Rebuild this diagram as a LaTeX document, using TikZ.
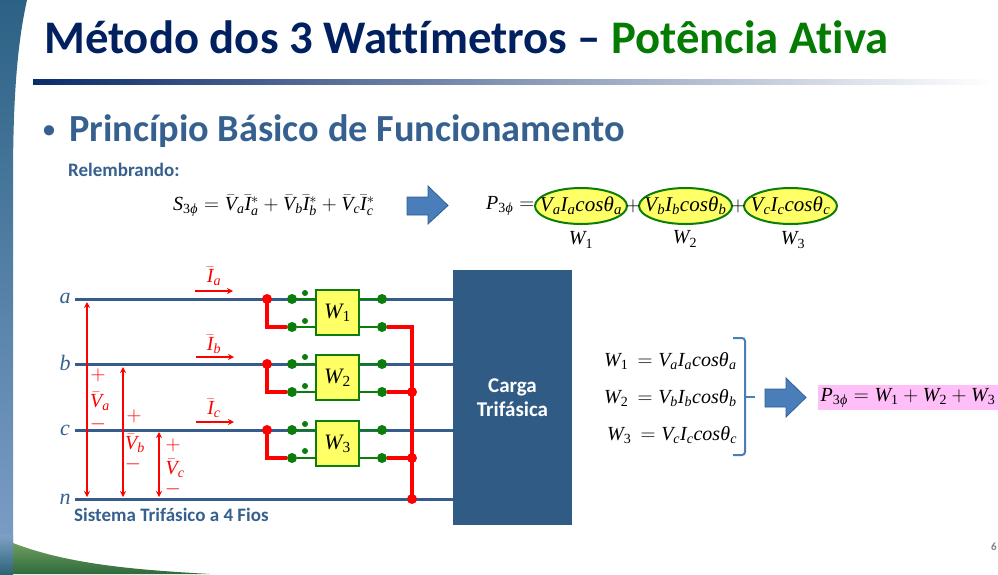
\documentclass[tikz,border=0pt]{standalone}
\usepackage{mathspec}
\setmainfont[Ligatures=NoCommon]{Carlito}
\setmathsfont(Digits,Latin,Greek){Liberation Serif}
\usetikzlibrary{arrows.meta,shapes.geometric}
\definecolor{navy}{HTML}{002060}
\definecolor{okgreen}{HTML}{047C04}
\definecolor{head}{HTML}{36608F}
\definecolor{wire}{HTML}{355C8C}
\definecolor{load}{HTML}{2F5B85}
\definecolor{mred}{HTML}{FF0000}
\definecolor{wgreen}{HTML}{0A7D0A}
\definecolor{wyellow}{HTML}{FFFF66}
\definecolor{bluefill}{HTML}{4A7EBB}
\definecolor{blueedge}{HTML}{2F5F95}
\definecolor{pinkbox}{HTML}{FFBEF8}
\definecolor{stripA}{HTML}{2C6285}
\definecolor{stripB}{HTML}{4F76A8}
\definecolor{stripC}{HTML}{7FA0C8}
\definecolor{swooshA}{HTML}{6F9F60}
\definecolor{swooshB}{HTML}{2E6A3C}
\tikzset{
  x=1pt,y=-1pt,
  phaseline/.style={draw=wire,line width=3pt},
  redwire/.style={draw=mred,line width=3.3pt},
  greenwire/.style={draw=wgreen,line width=2.6pt},
  reddot/.style={circle,fill=mred,inner sep=0pt,minimum size=10pt},
  greendot/.style={circle,fill=wgreen,inner sep=0pt,minimum size=10pt},
  polaritydot/.style={circle,fill=wgreen,inner sep=0pt,minimum size=6pt},
  wattbox/.style={draw=wgreen,line width=2pt,fill=wyellow,minimum width=43pt,minimum height=45pt,inner sep=0pt,font=\fontsize{22}{24}\selectfont},
  watoval/.style={ellipse,draw=wgreen,line width=2pt,fill=wyellow,minimum width=92pt,minimum height=36pt,inner sep=0pt},
  ovaltext/.style={inner sep=0pt,font=\fontsize{21}{24}\selectfont},
  voltarrow/.style={draw=mred,line width=1.3pt,{Stealth[length=6pt,width=6pt]}-{Stealth[length=6pt,width=6pt]}},
  currarrow/.style={draw=mred,line width=1.6pt,-{Stealth[length=6pt,width=6pt]}},
  redlabel/.style={text=mred,inner sep=0pt,font=\fontsize{20}{22}\selectfont},
  wirelabel/.style={text=head,inner sep=0pt,font=\fontsize{22}{24}\selectfont},
  eqn/.style={inner sep=0pt,font=\fontsize{20}{22}\selectfont},
  blockarrow/.style={draw=blueedge,line width=0.8pt,fill=bluefill},
}
\begin{document}
\begin{tikzpicture}
\useasboundingbox (0,0) rectangle (998,574);
\fill[white] (0,0) rectangle (998,574);
% background
\shade[top color=stripA,middle color=stripB,bottom color=stripC]
  (0,0) -- (27,0) .. controls (17,45) and (13,100) .. (13,180) -- (13,574) -- (0,574) -- cycle;
\shade[top color=stripC,bottom color=stripA!80!swooshB] (0,535) rectangle (13,574);
\shade[top color=swooshA,bottom color=swooshB]
  (13,543) .. controls (70,565) and (140,570) .. (210,574) -- (13,574) -- cycle;
% title
\node[anchor=base west,inner sep=0pt,text=navy,font=\fontsize{46.7}{48}\bfseries\selectfont] (title) at (44,53)
  {Método dos 3 Wattímetros \textcolor{navy}{–} \textcolor{okgreen}{Potência Ativa}};
\shade[left color=navy!85!stripB,right color=white,draw=none] (33,79) rectangle (992,84);
\node[anchor=base west,inner sep=0pt,text=head,font=\fontsize{24}{26}\bfseries\selectfont] (bullet) at (43,137) {•};
\node[anchor=base west,inner sep=0pt,text=head,font=\fontsize{38.3}{40}\bfseries\selectfont] (heading) at (69,141) {Princípio Básico de Funcionamento};
\node[anchor=base west,inner sep=0pt,text=head,font=\fontsize{19}{20}\bfseries\selectfont] (relemb) at (68,176) {Relembrando:};
% top equations
\node[eqn,anchor=west] (seq) at (173,206) {$S_{3\varphi}=\bar V_a\bar I_a^{*}+\bar V_b\bar I_b^{*}+\bar V_c\bar I_c^{*}$};
\draw[blockarrow] (407,197) -- (428,197) -- (428,186) -- (448,205.5) -- (428,224) -- (428,215) -- (407,215) -- cycle;
\node[eqn,anchor=west] (peq) at (486,206) {$P_{3\varphi}=$};
\node[watoval] (o1) at (581,206) {};
\node[watoval,minimum width=93pt] (o2) at (685.5,206) {};
\node[watoval,minimum width=93pt] (o3) at (790.5,206) {};
\node[ovaltext] (t1) at (o1) {$V_aI_acos\theta_a$};
\node[ovaltext] (t2) at (o2) {$V_bI_bcos\theta_b$};
\node[ovaltext] (t3) at (o3) {$V_cI_ccos\theta_c$};
\node[eqn] (plus1) at (633,206) {$+$};
\node[eqn] (plus2) at (738,206) {$+$};
\node[eqn] (ow1) at (581,240) {$W_1$};
\node[eqn] (ow2) at (685,239) {$W_2$};
\node[eqn] (ow3) at (793,240) {$W_3$};
% load
\node[fill=load,minimum width=119pt,minimum height=255pt,inner sep=0pt,text=white,align=center,font=\fontsize{21}{23.5}\bfseries\selectfont] (load) at (512.5,397.5) {Carga\\Trifásica};
% wire ends
\coordinate (astart) at (75,299); \coordinate (bstart) at (75,364);
\coordinate (cstart) at (75,430); \coordinate (nstart) at (75,499);
\coordinate (aend) at (load.west |- astart); \coordinate (bend) at (load.west |- bstart);
\coordinate (cend) at (load.west |- cstart); \coordinate (nend) at (load.west |- nstart);
\draw[phaseline] (astart) -- (aend);
\draw[phaseline] (bstart) -- (bend);
\draw[phaseline] (cstart) -- (cend);
\draw[phaseline] (nstart) -- (nend);
% wattmeters
\node[greendot] (gal) at (292,299) {}; \node[greendot] (gall) at (292,327) {};
\node[greendot] (gar) at (382,299) {}; \node[greendot] (garl) at (382,327) {};
\node[greendot] (gbl) at (292,364) {}; \node[greendot] (gbll) at (292,392) {};
\node[greendot] (gbr) at (382,364) {}; \node[greendot] (gbrl) at (382,392) {};
\node[greendot] (gcl) at (292,430) {}; \node[greendot] (gcll) at (292,458) {};
\node[greendot] (gcr) at (382,430) {}; \node[greendot] (gcrl) at (382,458) {};
\node[wattbox] (w1) at (337.5,312.5) {$W_1$};
\node[wattbox] (w2) at (337.5,377.5) {$W_2$};
\node[wattbox] (w3) at (337.5,443.5) {$W_3$};
\node[reddot] (ra) at (267,299) {}; \node[reddot] (rb) at (267,364) {}; \node[reddot] (rc) at (267,430) {};
\node[polaritydot] (pa1) at (305,293) {}; \node[polaritydot] (pa2) at (305,321) {};
\node[polaritydot] (pb1) at (305,357) {}; \node[polaritydot] (pb2) at (305,386) {};
\node[polaritydot] (pc1) at (305,424) {}; \node[polaritydot] (pc2) at (305,451) {};
\draw[greenwire] (gal) -- (gal -| w1.west); \draw[greenwire] (gall) -- (gall -| w1.west);
\draw[greenwire] (gar) -- (gar -| w1.east); \draw[greenwire] (garl) -- (garl -| w1.east);
\draw[greenwire] (gbl) -- (gbl -| w2.west); \draw[greenwire] (gbll) -- (gbll -| w2.west);
\draw[greenwire] (gbr) -- (gbr -| w2.east); \draw[greenwire] (gbrl) -- (gbrl -| w2.east);
\draw[greenwire] (gcl) -- (gcl -| w3.west); \draw[greenwire] (gcll) -- (gcll -| w3.west);
\draw[greenwire] (gcr) -- (gcr -| w3.east); \draw[greenwire] (gcrl) -- (gcrl -| w3.east);
% red wiring
\draw[redwire] (ra.center) |- (gall);
\draw[redwire] (rb.center) |- (gbll);
\draw[redwire] (rc.center) |- (gcll);
\node[reddot] (jb) at (412,392) {}; \node[reddot] (jc) at (412,458) {}; \node[reddot] (jn) at (412,499) {};
\draw[redwire] (garl) -| (jn.center);
\draw[redwire] (gbrl) -- (jb.center);
\draw[redwire] (gcrl) -- (jc.center);
% line names
\node[wirelabel] (la) at (65,298) {$a$};
\node[wirelabel] (lb) at (65,363) {$b$};
\node[wirelabel] (lc) at (65,430) {$c$};
\node[wirelabel] (ln) at (65,499) {$n$};
% voltage arrows
\coordinate (vat) at (87,302); \coordinate (vab) at (87,497);
\coordinate (vbt) at (123,367); \coordinate (vbb) at (123,497);
\coordinate (vct) at (159,432); \coordinate (vcb) at (159,497);
\draw[voltarrow] (vat) -- (vab);
\draw[voltarrow] (vbt) -- (vbb);
\draw[voltarrow] (vct) -- (vcb);
\node[redlabel] (pva) at (98,375) {$+$}; \node[redlabel] (va) at (100,401) {$\bar V_a$}; \node[redlabel] (mva) at (98,424) {$-$};
\node[redlabel] (pvb) at (134,416) {$+$}; \node[redlabel] (vb) at (135,443) {$\bar V_b$}; \node[redlabel] (mvb) at (133,464) {$-$};
\node[redlabel] (pvc) at (173,445) {$+$}; \node[redlabel] (vc) at (175,468) {$\bar V_c$}; \node[redlabel] (mvc) at (173,489) {$-$};
% current arrows
\coordinate (ias) at (195,291); \coordinate (iae) at (233,291);
\coordinate (ibs) at (196,357); \coordinate (ibe) at (234,357);
\coordinate (ics) at (196,422); \coordinate (ice) at (234,422);
\draw[currarrow] (ias) -- (iae);
\draw[currarrow] (ibs) -- (ibe);
\draw[currarrow] (ics) -- (ice);
\node[redlabel] (ia) at (214,276) {$\bar I_a$};
\node[redlabel] (ib) at (214,344) {$\bar I_b$};
\node[redlabel] (ic) at (214,408) {$\bar I_c$};
\node[anchor=base west,inner sep=0pt,text=head,font=\fontsize{19}{20}\bfseries\selectfont] (sist) at (74,521) {Sistema Trifásico a 4 Fios};
% right equations
\node[eqn,anchor=west] (e1) at (604,361) {$W_1\,=V_aI_acos\theta_a$};
\node[eqn,anchor=west] (e2) at (604,398) {$W_2\,=V_bI_bcos\theta_b$};
\node[eqn,anchor=west] (e3) at (607,435) {$W_3\,=V_cI_ccos\theta_c$};
\coordinate (brt) at (733,338); \coordinate (brb) at (733,455); \coordinate (brm) at (745,397); \coordinate (brtip) at (755,397);
\draw[draw=bluefill,line width=2pt,rounded corners=3pt] (brt) -- (745,338) -- (745,455) -- (brb);
\draw[draw=bluefill,line width=2pt] (brm) -- (brtip);
\draw[blockarrow] (765,389) -- (786,389) -- (786,378) -- (806,397.5) -- (786,417) -- (786,407) -- (765,407) -- cycle;
\node[fill=pinkbox,minimum width=180pt,minimum height=25pt,inner sep=0pt,font=\fontsize{20}{22}\selectfont] (pbox) at (908,397.5) {$P_{3\varphi}=W_1+W_2+W_3$};
\node[text=black!50,inner sep=0pt,font=\fontsize{11}{12}\bfseries\selectfont] (page) at (994,547) {6};
\end{tikzpicture}
\end{document}
